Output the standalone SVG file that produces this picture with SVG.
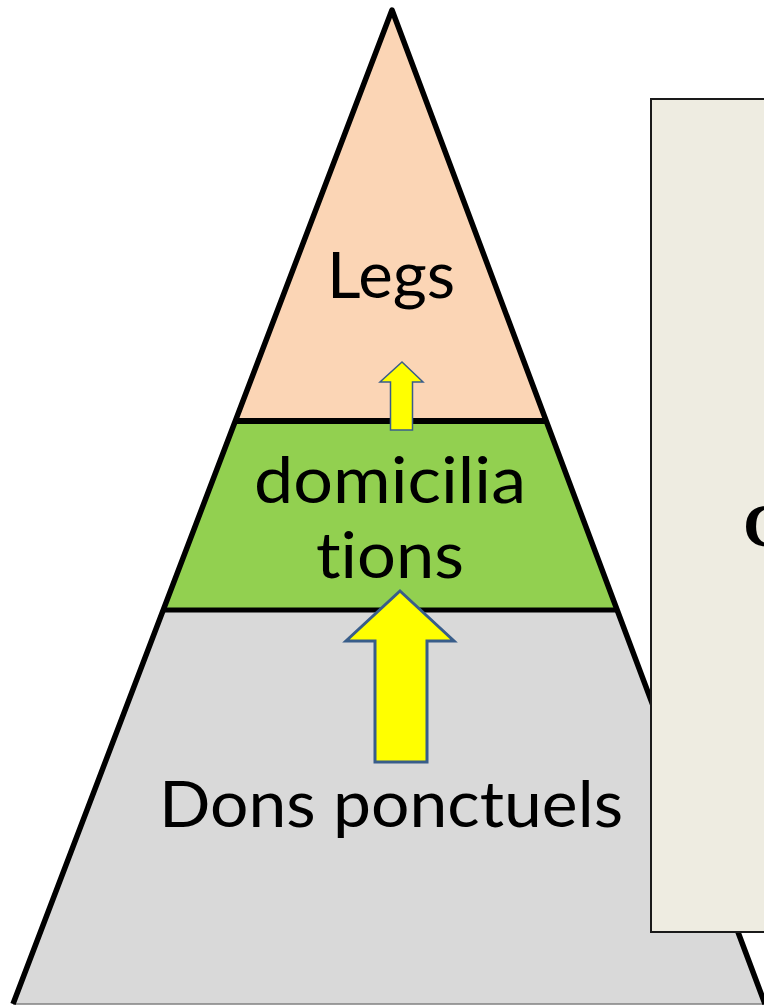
<svg xmlns="http://www.w3.org/2000/svg" width="764" height="1006" viewBox="0 0 764 1006">
  <style>
    .lbl { font-family: Lato, "Open Sans", "Noto Sans", sans-serif; font-size: 63px; fill: #000; text-anchor: middle; font-variant-ligatures: none; font-feature-settings: "liga" 0; }
    .edge { fill: none; stroke: #000; stroke-linejoin: round; }
    .arrow { fill: #FFFF00; stroke: #385D8A; stroke-linejoin: miter; }
  </style>
  <rect width="764" height="1006" fill="#FFFFFF"/>
  <g id="pyramid">
    <g id="level-dons">
      <polygon points="163.5,610 616.9,610 765,1004 13,1004" fill="#D9D9D9"/>
    </g>
    <g id="level-domiciliations">
      <polygon points="235.7,421 545.8,421 616.9,610 163.5,610" fill="#92D050"/>
    </g>
    <g id="level-legs">
      <polygon points="392,10 545.8,421 235.7,421" fill="#FBD5B5"/>
    </g>
    <line x1="13" y1="1004" x2="765" y2="1004" stroke="#808080" stroke-width="1.5"/>
    <polyline class="edge" points="13,1004 392,10 765,1004" stroke-width="5.5"/>
    <line x1="235.7" y1="421" x2="545.8" y2="421" stroke="#000" stroke-width="6"/>
    <line x1="163.5" y1="610" x2="616.9" y2="610" stroke="#000" stroke-width="5"/>
  </g>
  <g id="connectors">
    <polygon class="arrow" stroke-width="1.5" points="402,362 423,382 412.5,382 412.5,430 390.5,430 390.5,382 380,382"/>
    <polygon class="arrow" stroke-width="3" points="400,591 454,641 427,641 427,762 375,762 375,641 346,641"/>
  </g>
  <g id="labels">
    <text class="lbl" x="391" y="298" textLength="128" lengthAdjust="spacingAndGlyphs">Legs</text>
    <text class="lbl" x="390" y="503" textLength="272" lengthAdjust="spacingAndGlyphs">domicilia</text>
    <text class="lbl" x="390" y="578" textLength="148" lengthAdjust="spacingAndGlyphs">tions</text>
    <text class="lbl" x="391" y="827" textLength="464" lengthAdjust="spacingAndGlyphs">Dons ponctuels</text>
  </g>
  <g id="box">
    <rect x="651" y="99" width="140" height="833" fill="#EEECE1" stroke="#1A1A1A" stroke-width="2"/>
    <text x="743" y="546" font-family="'Liberation Serif', 'DejaVu Serif', serif" font-weight="bold" font-size="62" fill="#000">C</text>
  </g>
</svg>
